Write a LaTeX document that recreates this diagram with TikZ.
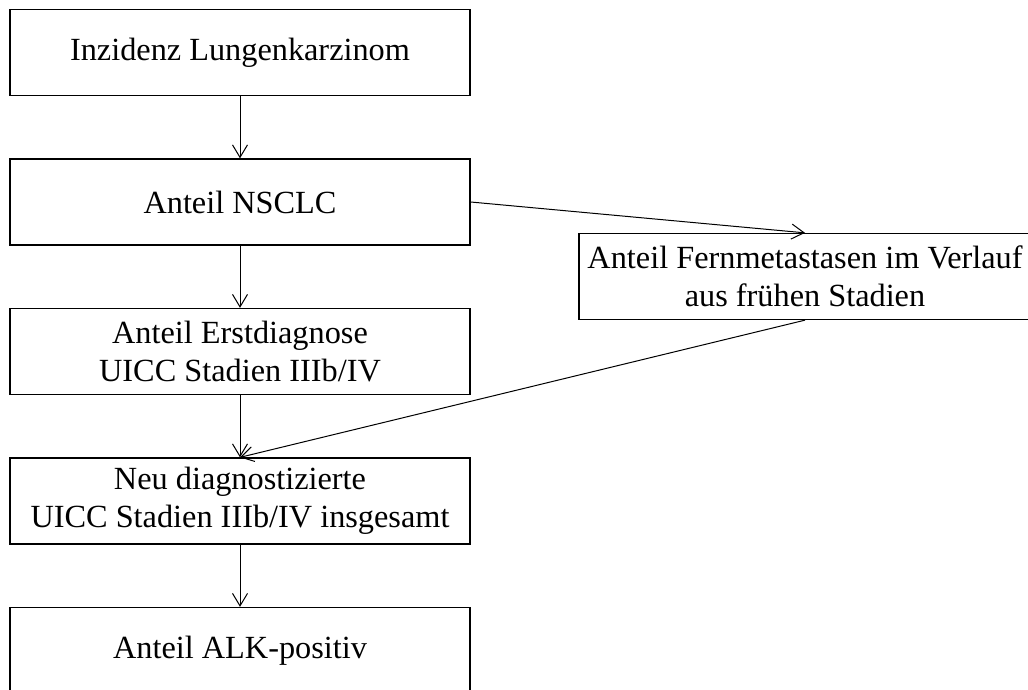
\documentclass[tikz,border=0pt]{standalone}
\usepackage{fontspec}
\setmainfont{Liberation Serif}
\usetikzlibrary{arrows.meta}

\tikzset{
    stage/.style={draw, line width=1.3pt, minimum width=460pt, minimum height=86pt,
        inner sep=0pt, align=center, font={\fontsize{32.3}{38}\selectfont}},
    flow/.style={line width=1pt, -{Straight Barb[length=12.5pt,width=15pt,line width=1pt]}}
}

\begin{document}
\begin{tikzpicture}[x=1pt,y=-1pt]
            \useasboundingbox (0,0) rectangle (1028,690);

            \node[stage] (inzidenz) at (240,52.5) {Inzidenz Lungenkarzinom};
            \node[stage] (nsclc) at (240,202) {Anteil NSCLC};
            \node[stage] (erstdiag) at (240,351.5) {Anteil Erstdiagnose\\UICC Stadien IIIb/IV};
            \node[stage] (neudiag) at (240,501) {Neu diagnostizierte\\UICC Stadien IIIb/IV insgesamt};
            \node[stage] (alk) at (240,650.5) {Anteil ALK-positiv};
            \node[stage, minimum width=452pt] (fernmeta) at (805,276.5) {Anteil Fernmetastasen im Verlauf\\aus frühen Stadien};

            \draw[flow] (inzidenz) -- (nsclc);
            \draw[flow] (nsclc) -- (erstdiag);
            \draw[flow] (erstdiag) -- (neudiag);
            \draw[flow] (neudiag) -- (alk);
            \draw[flow] (nsclc.east) -- (fernmeta.north);
            \draw[flow] (fernmeta.south) -- (neudiag.north);
        \end{tikzpicture}
\end{document}
